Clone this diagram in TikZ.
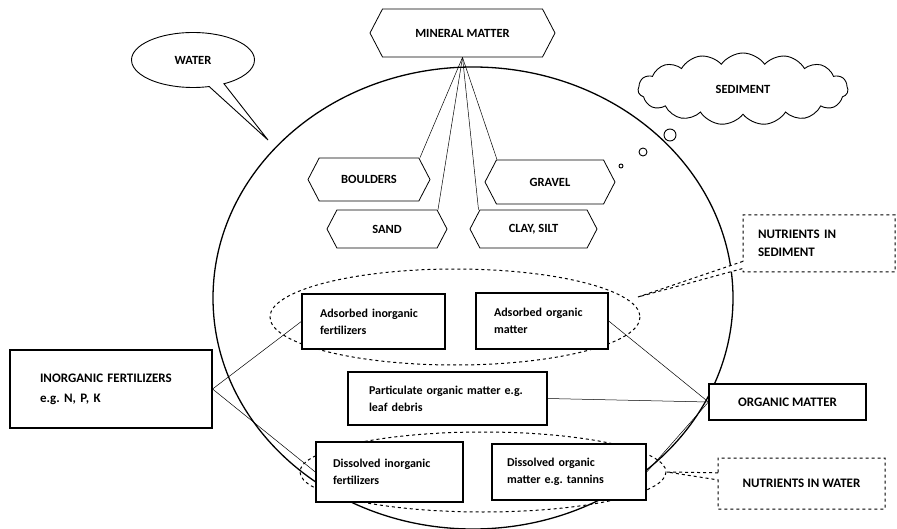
\documentclass[tikz,border=0pt]{standalone}
\usepackage{fontspec}
\setmainfont{Carlito}
\usepackage{tikz}
\usetikzlibrary{shapes.geometric, shapes.symbols, shapes.callouts, positioning}
\frenchspacing

\tikzset{
  hexbox/.style={draw, signal, signal to=east and west, signal pointer angle=125,
    fill=white, line width=0.8pt, font=\bfseries\fontsize{12.5}{15}\selectfont},
  solidbox/.style={draw, rectangle, fill=white, line width=1.4pt, align=left,
    font=\bfseries\fontsize{12}{17}\selectfont},
  capsbox/.style={draw, rectangle, fill=white, line width=1.1pt, align=left,
    font=\bfseries\fontsize{13}{20}\selectfont},
  notebox/.style={draw, rectangle callout, dashed, line width=1pt, fill=white, align=left,
    font=\bfseries\fontsize{13}{18}\selectfont},
  link/.style={draw, line width=0.5pt},
  bubble/.style={draw, circle, inner sep=0pt, line width=0.9pt}
}

\begin{document}
\begin{tikzpicture}[x=1pt, y=-1pt]
\useasboundingbox (0,0) rectangle (897,529);

% main water body
\draw[line width=1.3pt] (473,298) ellipse [x radius=260, y radius=231];
\draw[dashed, line width=1pt] (455,317) ellipse [x radius=185, y radius=48];
\draw[dashed, line width=1pt] (483,472) ellipse [x radius=183, y radius=40];

% callouts
\node[draw, ellipse callout, line width=0.9pt, minimum width=123, minimum height=55,
  callout absolute pointer={(268,140)}, font=\bfseries\fontsize{12.5}{15}\selectfont]
  (water) at (193,60) {WATER};
\node[draw, cloud, cloud puffs=15, cloud puff arc=110, aspect=3, line width=0.9pt,
  minimum width=210, minimum height=72, font=\bfseries\fontsize{12.5}{15}\selectfont]
  (sediment) at (743,89) {SEDIMENT};
\node[bubble, minimum size=12] (b1) at (670,135) {};
\node[bubble, minimum size=8] (b2) at (643,152) {};
\node[bubble, minimum size=4] (b3) at (621,166) {};

% mineral matter
\node[hexbox, minimum width=185, minimum height=48] (mineral) at (462.5,33) {MINERAL MATTER};
\node[hexbox, minimum width=122, minimum height=43] (boulders) at (369,179.5) {BOULDERS};
\node[hexbox, minimum width=120, minimum height=38] (sand) at (387,229) {SAND};
\node[hexbox, minimum width=130, minimum height=44] (gravel) at (550,182) {GRAVEL};
\node[hexbox, minimum width=127, minimum height=38] (clay) at (533.5,229) {CLAY, SILT};

% boxes inside
\node[solidbox, text width=107, inner xsep=18, minimum height=55] (adsI) at (373.5,321.5)
  {Adsorbed inorganic\\fertilizers};
\node[solidbox, text width=96, inner xsep=18, minimum height=56] (adsO) at (542,321)
  {Adsorbed organic\\matter};
\node[solidbox, text width=157, inner xsep=21, minimum height=53] (part) at (447.5,398.5)
  {Particulate organic matter e.g.\\leaf debris};
\node[solidbox, text width=113, inner xsep=17, minimum height=60] (disI) at (389.5,472)
  {Dissolved inorganic\\fertilizers};
\node[solidbox, text width=124, inner xsep=15, minimum height=56] (disO) at (569,472)
  {Dissolved organic\\matter e.g. tannins};

% outside boxes
\node[capsbox, text width=142, inner xsep=30, minimum height=78] (inorg) at (111,389)
  {INORGANIC FERTILIZERS\\e.g. N, P, K};
\node[capsbox, align=center, minimum width=157, minimum height=36] (org) at (787.5,402)
  {ORGANIC MATTER};
\node[notebox, text width=122, inner xsep=15, minimum height=57,
  callout absolute pointer={(638,297)}] (nutsed) at (819,243.5) {NUTRIENTS IN\\SEDIMENT};
\node[notebox, align=center, minimum width=167, minimum height=51,
  callout absolute pointer={(667,472)}] (nutwat) at (801.5,483.5) {NUTRIENTS IN WATER};

% connectors
\draw[link] (mineral.south) -- ([xshift=51pt]boulders.north);
\draw[link] (mineral.south) -- ([xshift=51pt]sand.north);
\draw[link] (mineral.south) -- ([xshift=-55pt]clay.north);
\draw[link] (mineral.south) -- ([xshift=-53pt]gravel.north);
\draw[link] (inorg.east) -- (adsI.west);
\draw[link] (inorg.east) -- (disI.west);
\draw[link] (adsO.east) -- (org.west);
\draw[link] (part.east) -- (org.west);
\draw[link] (disO.east) -- (org.west);
\end{tikzpicture}
\end{document}
